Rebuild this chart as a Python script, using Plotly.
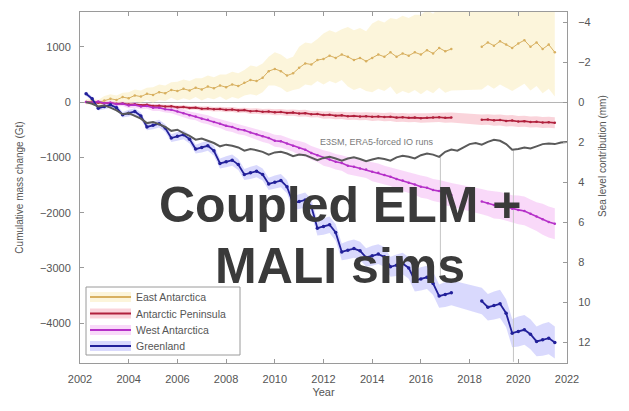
import numpy as np
import plotly.graph_objects as go

# Quarterly time stamps: observations (GRACE / GRACE-FO) and the coupled simulation
t_obs = np.round(np.arange(2002.25, 2021.51, 0.25), 2)
t_sim = np.round(np.arange(2002.25, 2022.01, 0.25), 2)

# Cumulative mass change (Gt), quarterly; None marks the GRACE / GRACE-FO gap
east_antarctica = [
    0, 20, -10,
    30, 60, 40, 90,
    70, 120, 100, 150,
    130, 180, 160, 220,
    200, 240, 210, 260,
    230, 280, 250, 300,
    270, 320, 290, 350,
    400, 380, 440, 560,
    600, 560, 480, 520,
    620, 700, 680, 760,
    780, 840, 800, 860,
    820, 760, 800, 740,
    800, 860, 820, 900,
    820, 880, 840, 900,
    860, 940, 880, 980,
    920, 960, None, None,
    None, None, 1000, 1080,
    1020, 1100, 1040, 980,
    1060, 1120, 1000, 1080,
    960, 1040, 900,
]
antarctic_peninsula = [
    0, -10, -5,
    -20, -15, -30, -25,
    -45, -40, -55, -50,
    -70, -65, -80, -75,
    -95, -90, -105, -100,
    -120, -115, -130, -125,
    -140, -135, -150, -145,
    -165, -160, -175, -170,
    -185, -180, -195, -190,
    -205, -200, -220, -215,
    -235, -230, -245, -240,
    -255, -250, -260, -255,
    -265, -260, -270, -265,
    -280, -275, -285, -280,
    -290, -285, -280, -275,
    -285, -280, None, None,
    None, None, -320, -315,
    -330, -325, -340, -335,
    -350, -345, -360, -355,
    -370, -365, -375,
]
west_antarctica = [
    0, -10, 10,
    -20, -10, -40, -30,
    -60, -50, -80, -70,
    -100, -100, -130, -140,
    -170, -200, -240, -260,
    -300, -320, -360, -390,
    -430, -450, -490, -510,
    -550, -580, -620, -650,
    -700, -710, -750, -790,
    -830, -860, -920, -960,
    -1010, -1040, -1080, -1100,
    -1150, -1170, -1200, -1220,
    -1260, -1280, -1320, -1350,
    -1390, -1420, -1460, -1490,
    -1530, -1550, -1590, -1610,
    -1650, -1680, None, None,
    None, None, -1800, -1830,
    -1860, -1870, -1900, -1930,
    -1950, -1970, -2020, -2070,
    -2120, -2170, -2200,
]
greenland = [
    150, 60, -110,
    -80, -50, -100, -230,
    -200, -170, -250, -450,
    -420, -390, -470, -650,
    -620, -590, -670, -850,
    -820, -790, -880, -1110,
    -1080, -1050, -1130, -1310,
    -1280, -1250, -1310, -1480,
    -1450, -1420, -1530, -1830,
    -1800, -1770, -1890, -2280,
    -2250, -2220, -2360, -2710,
    -2680, -2650, -2690, -2810,
    -2780, -2750, -2800, -2980,
    -2950, -2920, -3000, -3230,
    -3200, -3170, -3280, -3510,
    -3480, -3450, None, None,
    None, None, -3600, -3710,
    -3680, -3650, -3820, -4180,
    -4150, -4120, -4200, -4330,
    -4300, -4270, -4350,
]
# E3SM (ERA5-forced) coupled ELM + MALI simulation
e3sm_sim = [
    0, -30, -80,
    -60, -100, -150, -220,
    -200, -250, -300, -380,
    -360, -400, -450, -520,
    -500, -560, -610, -680,
    -660, -700, -740, -800,
    -770, -790, -820, -880,
    -850, -870, -900, -950,
    -910, -900, -930, -980,
    -950, -960, -1000, -1050,
    -1010, -990, -1020, -1060,
    -1020, -1000, -1030, -1070,
    -1040, -1010, -1030, -1060,
    -1000, -970, -990, -1020,
    -960, -930, -950, -990,
    -900, -860, -880, -820,
    -760, -740, -770, -720,
    -680, -700, -760, -860,
    -850, -820, -840, -800,
    -760, -750, -760, -730,
    -720,
]

# One-sigma uncertainty (Gt) for each calendar year 2002..2021
sigma_ea = [50, 80, 110, 140, 170, 200, 230, 260, 300, 380,
            460, 540, 620, 680, 720, 750, 770, 780, 790, 800]
sigma_ap = [15, 20, 25, 30, 35, 40, 45, 50, 55, 60,
            65, 70, 75, 80, 85, 90, 95, 100, 100, 100]
sigma_wa = [30, 40, 50, 60, 70, 80, 90, 100, 110, 125,
            140, 155, 170, 185, 200, 215, 230, 245, 260, 280]
sigma_gr = [40, 50, 60, 70, 80, 90, 100, 110, 120, 135,
            150, 165, 180, 195, 210, 225, 240, 255, 270, 290]

# Reference years marked with thin vertical lines, and their vertical extent (Gt)
marker_years = [2016.8, 2019.8]
marker_spans = [(-990, -3200), (-870, -4700)]

GT_PER_MM = 362.0  # Gt of ice per mm of global sea level
Y_MIN, Y_MAX = -4720, 1630

series = [
    ("East Antarctica", east_antarctica, sigma_ea, "#d8b060", "rgba(250,236,190,0.55)", 1.0, 2.5),
    ("Antarctic Peninsula", antarctic_peninsula, sigma_ap, "#b0203c", "rgba(244,160,176,0.45)", 1.6, 2.5),
    ("West Antarctica", west_antarctica, sigma_wa, "#b530c8", "rgba(240,160,240,0.40)", 1.6, 2.5),
    ("Greenland", greenland, sigma_gr, "#22209a", "rgba(160,160,250,0.40)", 1.8, 3.5),
]

# Plot-area geometry in pixels, used for the hand-built legend and overlay text
PL, PR, PT, PB = 80, 567, 12, 363


def px(x):
    return (x - PL) / (PR - PL)


def py(y):
    return (PB - y) / (PB - PT)


fig = go.Figure()

# Uncertainty envelopes (continuous across the observation gap)
for name, vals, sig, col, band, lw, ms in series:
    pts = [(t, v) for t, v in zip(t_obs, vals) if v is not None]
    ts = [p[0] for p in pts]
    up = [p[1] + sig[int(p[0]) - 2002] for p in pts]
    lo = [p[1] - sig[int(p[0]) - 2002] for p in pts]
    fig.add_trace(go.Scatter(
        x=ts + ts[::-1], y=up + lo[::-1], fill="toself", fillcolor=band,
        line=dict(width=0), mode="lines", hoverinfo="skip", showlegend=False,
    ))

# Reference year markers
for yr, (top, bot) in zip(marker_years, marker_spans):
    fig.add_trace(go.Scatter(
        x=[yr, yr], y=[top, bot], mode="lines",
        line=dict(color="#c4c4c4", width=1), hoverinfo="skip", showlegend=False,
    ))

# Observed cumulative mass change
for name, vals, sig, col, band, lw, ms in series:
    fig.add_trace(go.Scatter(
        x=t_obs, y=vals, name=name, mode="lines+markers",
        line=dict(color=col, width=lw), marker=dict(color=col, size=ms),
        connectgaps=False, showlegend=False,
    ))

# Coupled simulation
fig.add_trace(go.Scatter(
    x=t_sim, y=e3sm_sim, mode="lines", name="E3SM",
    line=dict(color="#5a5a5a", width=2), showlegend=False,
))

# Invisible trace so the sea-level axis is drawn
fig.add_trace(go.Scatter(
    x=[t_sim[0], t_sim[-1]], y=[0, 0], yaxis="y2", mode="lines",
    line=dict(width=0), hoverinfo="skip", showlegend=False,
))

axis_col = "#9a9a9a"
tick_font = dict(family="Liberation Sans, Arial, sans-serif", size=11, color="#555555")

fig.update_layout(
    width=629, height=411,
    margin=dict(l=PL, r=629 - PR, t=PT, b=411 - PB),
    paper_bgcolor="white", plot_bgcolor="white",
    font=dict(family="Liberation Sans, Arial, sans-serif", color="#555555"),
    xaxis=dict(
        range=[2002, 2022], tickmode="array", tickvals=list(range(2002, 2023, 2)),
        ticks="inside", ticklen=4, tickcolor=axis_col, showline=True, linecolor=axis_col,
        mirror="ticks", showgrid=False, zeroline=False, tickfont=tick_font,
        ticklabelstandoff=6,
        title=dict(text="Year", font=dict(size=11, color="#555555"), standoff=4),
    ),
    yaxis=dict(
        range=[Y_MIN, Y_MAX], tickmode="array", tickvals=[-4000, -3000, -2000, -1000, 0, 1000],
        ticks="inside", ticklen=4, tickcolor=axis_col, showline=True, linecolor=axis_col,
        showgrid=False, zeroline=True, zerolinecolor="#b5b5b5", zerolinewidth=1,
        tickfont=tick_font, ticklabelstandoff=6,
        title=dict(text="Cumulative mass change (Gt)", font=dict(size=10, color="#555555"), standoff=14),
    ),
    yaxis2=dict(
        overlaying="y", side="right",
        range=[-Y_MIN / GT_PER_MM, -Y_MAX / GT_PER_MM],
        tickmode="array", tickvals=[-4, -2, 0, 2, 4, 6, 8, 10, 12],
        ticks="inside", ticklen=4, tickcolor=axis_col, showline=True, linecolor=axis_col,
        showgrid=False, zeroline=False, tickfont=tick_font, ticklabelstandoff=8,
    ),
    showlegend=False,
)

# Legend box with a shaded swatch and line for each region
fig.add_shape(type="rect", xref="paper", yref="paper",
              x0=px(86), x1=px(240), y0=py(355), y1=py(287),
              fillcolor="white", line=dict(color=axis_col, width=1), layer="above")
row_y = [297, 313.5, 330, 346]
for (name, vals, sig, col, band, lw, ms), ry in zip(series, row_y):
    fig.add_shape(type="rect", xref="paper", yref="paper",
                  x0=px(90), x1=px(131), y0=py(ry + 5), y1=py(ry - 5),
                  fillcolor=band, line=dict(width=0), layer="above")
    fig.add_shape(type="line", xref="paper", yref="paper",
                  x0=px(90), x1=px(131), y0=py(ry), y1=py(ry),
                  line=dict(color=col, width=2), layer="above")
    fig.add_annotation(text=name, xref="paper", yref="paper", x=px(134), y=py(ry),
                       xanchor="left", yanchor="middle", showarrow=False,
                       font=dict(size=10.5, color="#555555"))

big_font = dict(family="Liberation Sans, Arial, sans-serif", size=50, color="#3a3a3a")
fig.add_annotation(text="<b>Coupled ELM +</b>", xref="paper", yref="paper",
                   x=px(340), y=py(205), xanchor="center", yanchor="middle",
                   showarrow=False, font=big_font)
fig.add_annotation(text="<b>MALI sims</b>", xref="paper", yref="paper",
                   x=px(340), y=py(266), xanchor="center", yanchor="middle",
                   showarrow=False, font=big_font)
fig.add_annotation(text="E3SM, ERA5-forced IO runs", x=2014.2, y=-720, xref="x", yref="y",
                   showarrow=False, font=dict(size=9, color="#7a7a7a"))
fig.add_annotation(text="Sea level contribution (mm)", xref="paper", yref="paper",
                   x=px(602), y=py(156), xanchor="center", yanchor="middle",
                   textangle=-90, showarrow=False, font=dict(size=10, color="#555555"))

fig.write_html("out.html")
